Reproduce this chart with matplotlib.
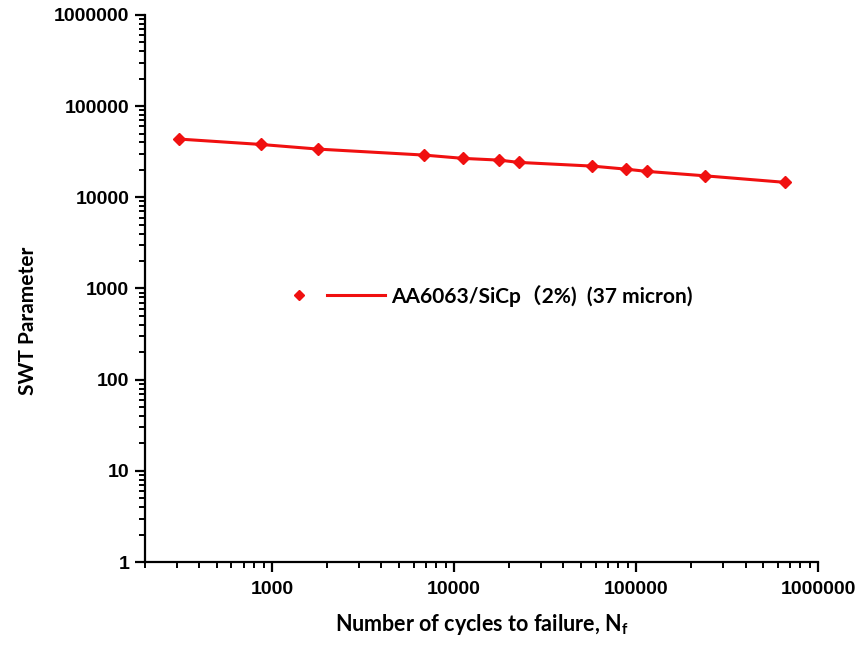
import matplotlib
matplotlib.use("Agg")
import matplotlib.pyplot as plt
from matplotlib.ticker import LogLocator, FuncFormatter, NullFormatter, FixedLocator
from matplotlib.legend_handler import HandlerTuple
from matplotlib.lines import Line2D

# Fatigue data: cycles to failure vs. Smith-Watson-Topper parameter
cycles = [310, 867, 1800, 6870, 11290, 17750, 22690, 57500, 87700, 114800, 238700, 663000]
swt = [43500, 38000, 33760, 29030, 26700, 25570, 24140, 21990, 20380, 19240, 17210, 14570]
series_label = "AA6063/SiCp（2%)  (37 micron)"
x_ticks = [1000, 10000, 100000, 1000000]
y_ticks = [1, 10, 100, 1000, 10000, 100000, 1000000]

plt.rcParams["mathtext.fontset"] = "custom"
plt.rcParams["mathtext.rm"] = "Lato"
plt.rcParams["mathtext.bf"] = "Lato:bold"

red = "#F01010"
fig = plt.figure(figsize=(8.61, 6.49), dpi=100)
ax = fig.add_axes([0.168, 0.134, 0.950 - 0.168, 0.977 - 0.134])

ax.plot(cycles, swt, color=red, lw=2.2, zorder=2)
ax.plot(cycles, swt, ls="none", marker="D", ms=6.5, color=red, zorder=3)

ax.set_xscale("log")
ax.set_yscale("log")
ax.set_xlim(200, 1e6)
ax.set_ylim(1, 1e6)

fmt = FuncFormatter(lambda v, p: f"{v:.0f}")
ax.xaxis.set_major_locator(FixedLocator(x_ticks))
ax.yaxis.set_major_locator(FixedLocator(y_ticks))
ax.xaxis.set_major_formatter(fmt)
ax.yaxis.set_major_formatter(fmt)
ax.xaxis.set_minor_locator(LogLocator(base=10, subs=range(2, 10), numticks=20))
ax.yaxis.set_minor_locator(LogLocator(base=10, subs=range(2, 10), numticks=20))
ax.xaxis.set_minor_formatter(NullFormatter())
ax.yaxis.set_minor_formatter(NullFormatter())

for s in ("top", "right"):
    ax.spines[s].set_visible(False)
for s in ("left", "bottom"):
    ax.spines[s].set_linewidth(1.6)

ax.tick_params(which="major", direction="out", length=7.5, width=1.6)
ax.tick_params(which="minor", direction="out", length=4, width=1.4)
ax.tick_params(axis="x", which="major", pad=6)
ax.tick_params(axis="y", which="major", pad=3.5)
for lab in ax.get_xticklabels() + ax.get_yticklabels():
    lab.set_fontfamily("Liberation Sans")
    lab.set_fontweight("bold")
    lab.set_fontsize(14)

ax.set_xlabel(r"Number of cycles to failure, N$_{\mathbf{f}}$",
              fontfamily="Lato", fontweight="bold", fontsize=15.5, labelpad=10)
ax.set_ylabel("SWT Parameter", fontfamily="Lato", fontweight="bold",
              fontsize=15, labelpad=10)
ax.yaxis.set_label_coords(-0.158, 0.44)

mk = Line2D([], [], ls="none", marker="D", ms=5, color=red)
ln = Line2D([], [], color=red, lw=2.2)
leg = ax.legend([(mk, ln)], [series_label],
                handler_map={tuple: HandlerTuple(ndivide=None, pad=0.0)},
                loc="center", bbox_to_anchor=(0.5, 0.487), frameon=False,
                handlelength=5.5, handletextpad=0.3,
                prop={"family": ["Lato", "Noto Sans CJK SC"], "weight": "bold", "size": 15})

fig.savefig("out.png", dpi=100)
